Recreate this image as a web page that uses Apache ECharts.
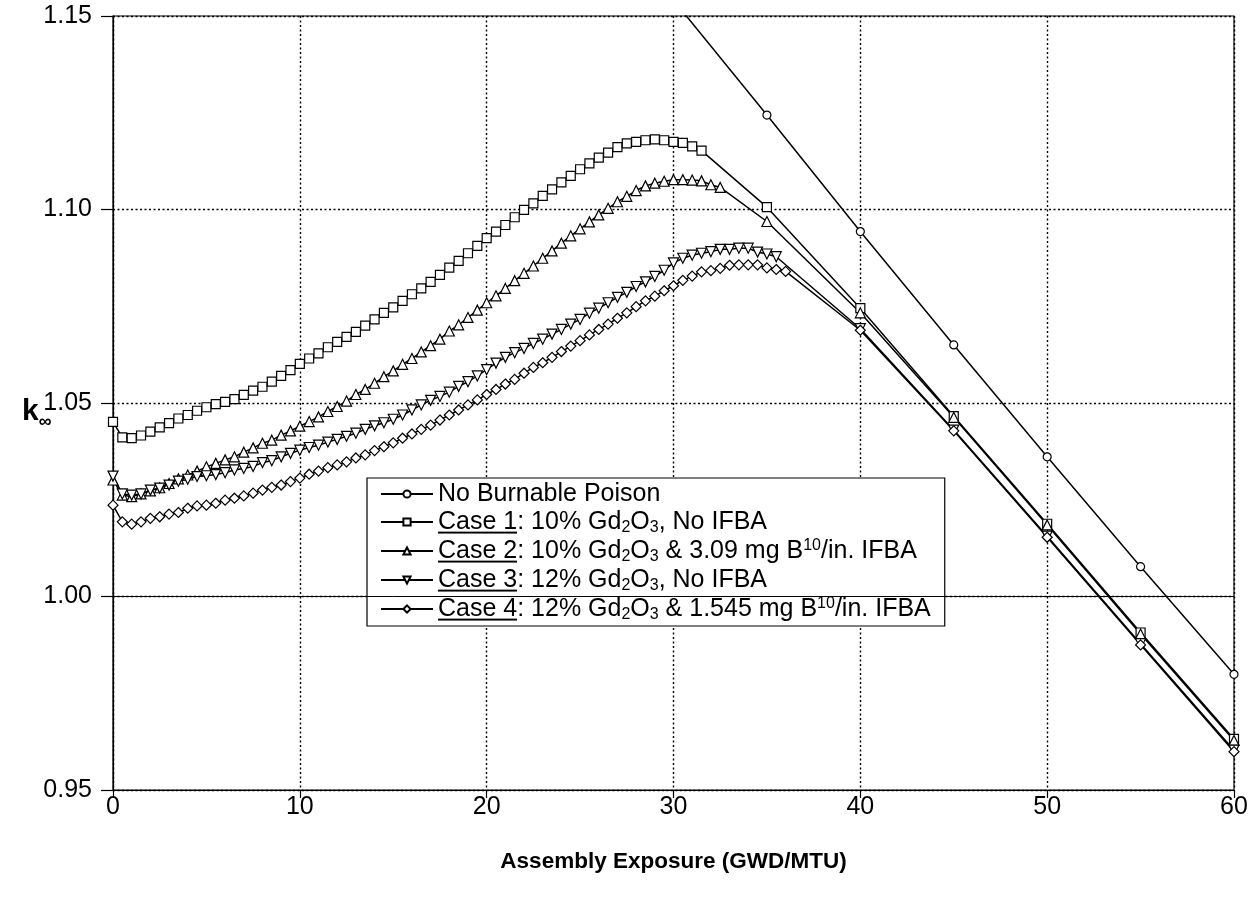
<!DOCTYPE html>
<html>
<head>
<meta charset="utf-8">
<script src="https://cdn.jsdelivr.net/npm/echarts@6/dist/echarts.min.js"></script>
<style>
  html, body { margin: 0; padding: 0; background: #fff; }
  #chart { width: 1254px; height: 897px; }
</style>
</head>
<body>
<div id="chart"></div>
<script>
// Assembly exposure (GWD/MTU) and k-infinity for each burnable-poison design.
const noBpExposure = [30, 35, 40, 45, 50, 55, 60];
const noBpK = [1.1541, 1.1244, 1.0943, 1.0650, 1.0361, 1.0077, 0.9799];

const case1Exposure = [0, 0.5, 1, 1.5, 2, 2.5, 3, 3.5, 4, 4.5, 5, 5.5, 6, 6.5, 7, 7.5, 8, 8.5, 9, 9.5,
  10, 10.5, 11, 11.5, 12, 12.5, 13, 13.5, 14, 14.5, 15, 15.5, 16, 16.5, 17, 17.5, 18, 18.5, 19, 19.5,
  20, 20.5, 21, 21.5, 22, 22.5, 23, 23.5, 24, 24.5, 25, 25.5, 26, 26.5, 27, 27.5, 28, 28.5, 29, 29.5,
  30, 30.5, 31, 31.5, 35, 40, 45, 50, 55, 60];
const case1K = [1.0451, 1.0411, 1.0409, 1.0416, 1.0426, 1.0437, 1.0448, 1.0460, 1.0469, 1.0480,
  1.0489, 1.0497, 1.0503, 1.0510, 1.0521, 1.0532, 1.0542, 1.0555, 1.0570, 1.0585,
  1.0601, 1.0615, 1.0628, 1.0644, 1.0658, 1.0671, 1.0684, 1.0700, 1.0716, 1.0733,
  1.0747, 1.0764, 1.0781, 1.0796, 1.0813, 1.0831, 1.0850, 1.0867, 1.0887, 1.0906,
  1.0926, 1.0943, 1.0960, 1.0980, 1.0999, 1.1016, 1.1035, 1.1052, 1.1070, 1.1087,
  1.1104, 1.1119, 1.1134, 1.1147, 1.1161, 1.1171, 1.1175, 1.1179, 1.1181, 1.1179,
  1.1175, 1.1172, 1.1163, 1.1152, 1.1006, 1.0745, 1.0466, 1.0188, 0.9907, 0.9632];

const case2Exposure = [0, 0.5, 1, 1.5, 2, 2.5, 3, 3.5, 4, 4.5, 5, 5.5, 6, 6.5, 7, 7.5, 8, 8.5, 9, 9.5,
  10, 10.5, 11, 11.5, 12, 12.5, 13, 13.5, 14, 14.5, 15, 15.5, 16, 16.5, 17, 17.5, 18, 18.5, 19, 19.5,
  20, 20.5, 21, 21.5, 22, 22.5, 23, 23.5, 24, 24.5, 25, 25.5, 26, 26.5, 27, 27.5, 28, 28.5, 29, 29.5,
  30, 30.5, 31, 31.5, 32, 32.5, 35, 40, 45, 50, 55, 60];
const case2K = [1.0301, 1.0262, 1.0258, 1.0265, 1.0273, 1.0281, 1.0292, 1.0304, 1.0314, 1.0324,
  1.0335, 1.0344, 1.0353, 1.0361, 1.0373, 1.0384, 1.0396, 1.0404, 1.0417, 1.0428,
  1.0440, 1.0452, 1.0464, 1.0478, 1.0491, 1.0505, 1.0522, 1.0535, 1.0551, 1.0568,
  1.0583, 1.0600, 1.0615, 1.0632, 1.0648, 1.0665, 1.0686, 1.0702, 1.0721, 1.0740,
  1.0759, 1.0777, 1.0796, 1.0816, 1.0835, 1.0854, 1.0874, 1.0893, 1.0913, 1.0932,
  1.0950, 1.0968, 1.0986, 1.1003, 1.1020, 1.1034, 1.1049, 1.1061, 1.1068, 1.1073,
  1.1077, 1.1077, 1.1076, 1.1074, 1.1064, 1.1057, 1.0969, 1.0733, 1.0463, 1.0185, 0.9903, 0.9628];

const case3Exposure = [0, 0.5, 1, 1.5, 2, 2.5, 3, 3.5, 4, 4.5, 5, 5.5, 6, 6.5, 7, 7.5, 8, 8.5, 9, 9.5,
  10, 10.5, 11, 11.5, 12, 12.5, 13, 13.5, 14, 14.5, 15, 15.5, 16, 16.5, 17, 17.5, 18, 18.5, 19, 19.5,
  20, 20.5, 21, 21.5, 22, 22.5, 23, 23.5, 24, 24.5, 25, 25.5, 26, 26.5, 27, 27.5, 28, 28.5, 29, 29.5,
  30, 30.5, 31, 31.5, 32, 32.5, 33, 33.5, 34, 34.5, 35, 35.5, 40, 45, 50, 55, 60];
const case3K = [1.0311, 1.0265, 1.0262, 1.0265, 1.0275, 1.0280, 1.0288, 1.0298, 1.0303, 1.0310,
  1.0312, 1.0315, 1.0320, 1.0327, 1.0331, 1.0336, 1.0346, 1.0351, 1.0361, 1.0370,
  1.0378, 1.0385, 1.0391, 1.0399, 1.0406, 1.0414, 1.0422, 1.0432, 1.0441, 1.0449,
  1.0458, 1.0469, 1.0482, 1.0495, 1.0507, 1.0517, 1.0528, 1.0543, 1.0555, 1.0570,
  1.0586, 1.0603, 1.0618, 1.0630, 1.0641, 1.0654, 1.0665, 1.0678, 1.0690, 1.0704,
  1.0716, 1.0732, 1.0745, 1.0759, 1.0773, 1.0786, 1.0801, 1.0813, 1.0827, 1.0843,
  1.0862, 1.0874, 1.0882, 1.0887, 1.0891, 1.0897, 1.0897, 1.0900, 1.0900, 1.0890,
  1.0885, 1.0878, 1.0692, 1.0430, 1.0156, 0.9878, 0.9603];

const case4Exposure = [0, 0.5, 1, 1.5, 2, 2.5, 3, 3.5, 4, 4.5, 5, 5.5, 6, 6.5, 7, 7.5, 8, 8.5, 9, 9.5,
  10, 10.5, 11, 11.5, 12, 12.5, 13, 13.5, 14, 14.5, 15, 15.5, 16, 16.5, 17, 17.5, 18, 18.5, 19, 19.5,
  20, 20.5, 21, 21.5, 22, 22.5, 23, 23.5, 24, 24.5, 25, 25.5, 26, 26.5, 27, 27.5, 28, 28.5, 29, 29.5,
  30, 30.5, 31, 31.5, 32, 32.5, 33, 33.5, 34, 34.5, 35, 35.5, 36, 40, 45, 50, 55, 60];
const case4K = [1.0236, 1.0193, 1.0187, 1.0193, 1.0202, 1.0206, 1.0213, 1.0217, 1.0228, 1.0234,
  1.0236, 1.0241, 1.0249, 1.0254, 1.0260, 1.0267, 1.0275, 1.0282, 1.0288, 1.0297,
  1.0306, 1.0316, 1.0324, 1.0333, 1.0340, 1.0348, 1.0358, 1.0366, 1.0377, 1.0387,
  1.0397, 1.0409, 1.0420, 1.0432, 1.0443, 1.0456, 1.0469, 1.0482, 1.0495, 1.0508,
  1.0522, 1.0535, 1.0549, 1.0561, 1.0577, 1.0592, 1.0604, 1.0618, 1.0633, 1.0647,
  1.0661, 1.0676, 1.0690, 1.0704, 1.0719, 1.0733, 1.0749, 1.0764, 1.0776, 1.0790,
  1.0803, 1.0817, 1.0828, 1.0839, 1.0842, 1.0848, 1.0856, 1.0857, 1.0857, 1.0857,
  1.0849, 1.0845, 1.0840, 1.0688, 1.0428, 1.0153, 0.9875, 0.9599];

// Series names and their legend captions (rich-text markup: u = underline, sb = subscript, sp = superscript)
const seriesNames = ['No Burnable Poison', 'Case 1', 'Case 2', 'Case 3', 'Case 4'];
const legendCaptions = [
  'No Burnable Poison',
  '{u|Case 1}: 10% Gd{sb|2}O{sb|3}, No IFBA',
  '{u|Case 2}: 10% Gd{sb|2}O{sb|3} & 3.09 mg B{sp|10}/in. IFBA',
  '{u|Case 3}: 12% Gd{sb|2}O{sb|3}, No IFBA',
  '{u|Case 4}: 12% Gd{sb|2}O{sb|3} & 1.545 mg B{sp|10}/in. IFBA'
];
const xTicks = [0, 10, 20, 30, 40, 50, 60];
const yTicks = [0.95, 1.00, 1.05, 1.10, 1.15];
const xTitle = 'Assembly Exposure (GWD/MTU)';

const FONT = "'Liberation Sans', Arial, Helvetica, sans-serif";

// A thin bar at the bottom of a small canvas, stretched under a text run to underline it.
function underlineImage() {
  const c = document.createElement('canvas');
  c.width = 4; c.height = 26;
  const g = c.getContext('2d');
  g.fillStyle = '#000';
  g.fillRect(0, 23, 4, 2);
  return c;
}

function pairs(xs, ys) {
  return xs.map((x, i) => [x, ys[i]]);
}

function curve(name, xs, ys, symbol, size, rotate) {
  return {
    name: name,
    type: 'line',
    data: pairs(xs, ys),
    symbol: symbol,
    symbolSize: size,
    symbolRotate: rotate || 0,
    showSymbol: true,
    showAllSymbol: true,
    clip: true,
    animation: false,
    lineStyle: { color: '#000', width: 1.5 },
    itemStyle: { color: '#fff', borderColor: '#000', borderWidth: 1.2 },
    emphasis: { disabled: true }
  };
}

const series = [
  curve(seriesNames[0], noBpExposure, noBpK, 'circle', 8),
  curve(seriesNames[1], case1Exposure, case1K, 'rect', 9),
  curve(seriesNames[2], case2Exposure, case2K, 'triangle', 10),
  curve(seriesNames[3], case3Exposure, case3K, 'triangle', 10, 180),
  curve(seriesNames[4], case4Exposure, case4K, 'diamond', 10)
];
// solid reference line at k = 1.00
series[0].markLine = {
  silent: true,
  symbol: 'none',
  label: { show: false },
  animation: false,
  lineStyle: { color: '#000', type: 'solid', width: 1 },
  data: [{ yAxis: 1.0 }]
};

const chart = echarts.init(document.getElementById('chart'), null, { renderer: 'canvas' });
const ul = underlineImage();

chart.setOption({
  backgroundColor: '#fff',
  animation: false,
  textStyle: { fontFamily: FONT, color: '#000' },
  grid: {
    left: 113, right: 20, top: 16, bottom: 107,
    show: true, borderColor: '#000', borderWidth: 1.2, backgroundColor: 'transparent'
  },
  xAxis: {
    type: 'value',
    min: xTicks[0], max: xTicks[xTicks.length - 1], interval: 10,
    name: xTitle,
    nameLocation: 'middle',
    nameGap: 60,
    nameTextStyle: { fontFamily: FONT, fontSize: 22.5, fontWeight: 'bold', color: '#000' },
    axisLine: { show: true, onZero: false, lineStyle: { color: '#000', width: 1.2 } },
    axisTick: { show: true, inside: false, length: 8, lineStyle: { color: '#000', width: 1.2 } },
    axisLabel: { fontFamily: FONT, fontSize: 25, color: '#000', margin: 5 },
    splitLine: { show: true, lineStyle: { color: '#000', type: [2, 2.5], width: 1.4 } }
  },
  yAxis: {
    type: 'value',
    min: yTicks[0], max: yTicks[yTicks.length - 1], interval: 0.05,
    axisLine: { show: true, onZero: false, lineStyle: { color: '#000', width: 1.2 } },
    axisTick: { show: true, inside: false, length: 12, lineStyle: { color: '#000', width: 1.2 } },
    axisLabel: {
      fontFamily: FONT, fontSize: 25, color: '#000', margin: 21,
      formatter: v => v.toFixed(2)
    },
    splitLine: { show: true, lineStyle: { color: '#000', type: [2, 2.5], width: 1.4 } }
  },
  legend: {
    data: seriesNames,
    orient: 'vertical',
    left: 367,
    top: 478,
    itemWidth: 52,
    itemHeight: 9,
    itemGap: 1,
    padding: [3, 14, 3, 13],
    backgroundColor: '#fff',
    borderColor: '#000',
    borderWidth: 1.2,
    selectedMode: false,
    formatter: name => legendCaptions[seriesNames.indexOf(name)],
    textStyle: {
      fontFamily: FONT, fontSize: 25, color: '#000', lineHeight: 26,
      rich: {
        u: { fontFamily: FONT, fontSize: 25, lineHeight: 26, color: '#000', backgroundColor: { image: ul } },
        sb: { fontFamily: FONT, fontSize: 16, lineHeight: 14, color: '#000', padding: [12, 0, 0, 0] },
        sp: { fontFamily: FONT, fontSize: 16, lineHeight: 14, color: '#000', padding: [0, 0, 10, 0] }
      }
    }
  },
  graphic: [{
    type: 'text',
    left: 22,
    top: 393,
    style: {
      text: '{k|k}{s|∞}',
      rich: {
        k: { fontFamily: FONT, fontSize: 30, fontWeight: 'bold', fill: '#000', lineHeight: 30 },
        s: { fontFamily: FONT, fontSize: 18, fontWeight: 'bold', fill: '#000', lineHeight: 18, padding: [20, 0, 0, 0] }
      }
    }
  }],
  series: series
});
</script>
</body>
</html>
